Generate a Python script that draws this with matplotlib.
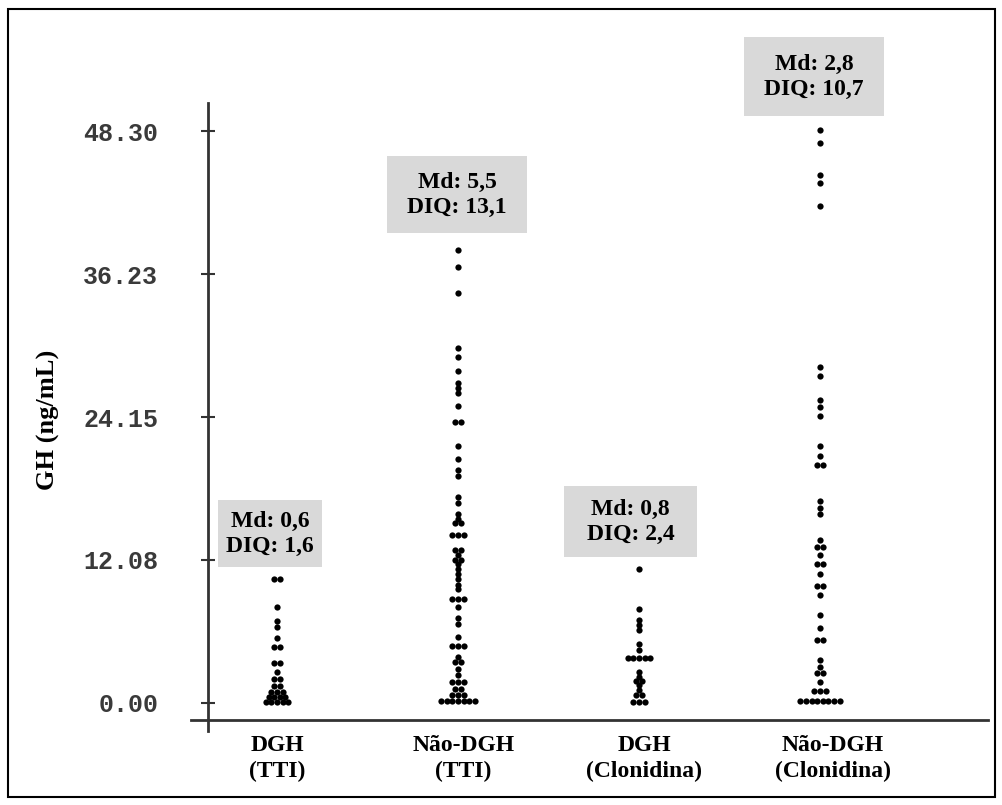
import numpy as np
import matplotlib.pyplot as plt
from matplotlib.patches import Rectangle

# categories and tick labels
groups = ["DGH\n(TTI)", "Não-DGH\n(TTI)", "DGH\n(Clonidina)", "Não-DGH\n(Clonidina)"]
y_ticks = [0.0, 12.08, 24.15, 36.23, 48.30]
y_tick_labels = ["0.00", "12.08", "24.15", "36.23", "48.30"]

# GH values (ng/mL), one list per group
dgh_tti = [10.45, 10.45, 8.1, 6.9, 6.4, 5.5, 4.7, 4.7, 3.4, 3.4, 2.6, 2.0, 2.0,
           1.4, 1.4, 0.95, 0.95, 0.95, 0.5, 0.5, 0.5, 0.5,
           0.1, 0.1, 0.1, 0.1, 0.1]
nao_dgh_tti = [38.3, 36.8, 34.6, 30.0, 29.2, 28.0, 27.0, 26.6, 26.2, 25.1, 23.7, 23.7,
               21.7, 20.6, 19.7, 19.2, 17.4, 16.9, 16.0, 15.5, 15.2, 15.2,
               14.2, 14.2, 14.2, 12.9, 12.9, 12.5, 12.1, 12.1, 11.7, 11.3, 10.9, 10.5,
               10.0, 9.6, 8.8, 8.8, 8.8, 8.1, 7.2, 6.7, 5.6, 4.8, 4.8, 4.8,
               3.9, 3.5, 3.5, 2.9, 2.4, 1.8, 1.8, 1.8, 1.2, 1.2, 0.7, 0.7, 0.7,
               0.2, 0.2, 0.2, 0.2, 0.2, 0.2, 0.2]
dgh_clon = [11.3, 7.9, 7.0, 6.6, 6.2, 5.0, 4.5, 3.8, 3.8, 3.8, 3.8, 3.8,
            2.6, 2.2, 1.9, 1.9, 1.5, 1.1, 0.7, 0.7, 0.1, 0.1, 0.1]
nao_dgh_clon = [48.4, 47.3, 44.6, 43.9, 42.0, 28.4, 27.6, 25.6, 25.0, 24.2,
                21.7, 20.9, 20.1, 20.1, 17.1, 16.5, 16.0, 13.8, 13.2, 13.2, 12.5,
                11.7, 11.7, 10.9, 9.9, 9.9, 9.1, 7.4, 6.3, 5.3, 5.3, 3.6, 3.0,
                2.5, 2.5, 1.8, 1.0, 1.0, 1.0,
                0.2, 0.2, 0.2, 0.2, 0.2, 0.2, 0.2, 0.2]

medians = ["0,6", "5,5", "0,8", "2,8"]
iqrs = ["1,6", "13,1", "2,4", "10,7"]

series = [dgh_tti, nao_dgh_tti, dgh_clon, nao_dgh_clon]

W, H = 1002, 805
serif = "Liberation Serif"


def swarm_offsets(vals, dx=0.031):
    # equal values sit side by side, centred on the column
    vals = np.round(np.asarray(vals, float), 2)
    offs = np.zeros(len(vals))
    for v in np.unique(vals):
        idx = np.where(vals == v)[0]
        n = len(idx)
        offs[idx] = (np.arange(n) - (n - 1) / 2) * dx
    return offs


fig = plt.figure(figsize=(W / 100, H / 100), dpi=100)
ax = fig.add_axes([191 / W, 1 - 731 / H, (988 - 191) / W, (731 - 103) / H])
ax.set_xlim((191 - 277) / 181, (988 - 277) / 181)
ax.set_ylim((703 - 731) / 11.84, (703 - 103) / 11.84)

for i, vals in enumerate(series):
    x = i + swarm_offsets(vals)
    ax.plot(x, vals, 'o', color='black', ms=4.5, mew=0, clip_on=False)

# axes look
for s in ['top', 'right']:
    ax.spines[s].set_visible(False)
ax.spines['left'].set_position(('data', (208 - 277) / 181))
ax.spines['bottom'].set_position(('data', (703 - 720) / 11.84))
for s in ['left', 'bottom']:
    ax.spines[s].set_color('#333333')
    ax.spines[s].set_linewidth(2.0)

ax.set_yticks(y_ticks)
ax.set_yticklabels(y_tick_labels, family='Liberation Mono', fontweight='bold',
                   fontsize=18, color='#3a3a3a')
ax.tick_params(axis='y', direction='inout', length=9.5, width=1.5, color='#333333', pad=31)

ax.set_xticks([0, 1.03, 2.03, 3.07])
ax.set_xticklabels(groups, family=serif, fontweight='bold', fontsize=17, linespacing=1.3)
ax.tick_params(axis='x', length=0, pad=11)

fig.text(48 / W, 1 - 420 / H, "GH (ng/mL)", rotation=90, ha='center', va='center',
         family=serif, fontweight='bold', fontsize=19)

# grey boxes with median / IQR, in pixel units of the figure
box_px = [(218, 500, 322, 567), (387, 156, 527, 233), (564, 486, 697, 557), (744, 37, 884, 116)]
for (x0, y0, x1, y1), md, iq in zip(box_px, medians, iqrs):
    fig.patches.append(Rectangle((x0 / W, 1 - y1 / H), (x1 - x0) / W, (y1 - y0) / H,
                                 transform=fig.transFigure, fc='#d9d9d9', ec='none', zorder=0))
    fig.text((x0 + x1) / 2 / W, 1 - (y0 + y1) / 2 / H, "Md: %s\nDIQ: %s" % (md, iq),
             ha='center', va='center', family=serif, fontweight='bold', fontsize=17,
             linespacing=1.25)

# outer frame
fig.patches.append(Rectangle((8 / W, 1 - 797 / H), (995 - 8) / W, (797 - 9) / H,
                             transform=fig.transFigure, fill=False, ec='black', lw=1.5))

fig.savefig("out.png", dpi=100)
